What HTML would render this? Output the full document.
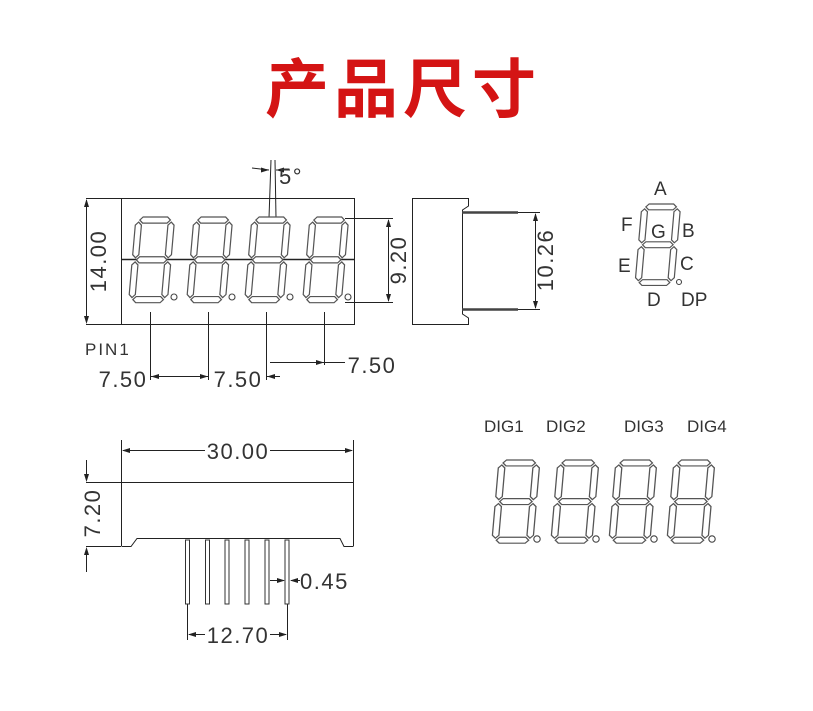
<!DOCTYPE html>
<html><head><meta charset="utf-8"><style>
html,body{margin:0;padding:0;background:#fff;width:813px;height:711px;overflow:hidden}
svg{display:block}
text{font-family:"Liberation Sans","DejaVu Sans",sans-serif;fill:#333}
</style></head><body>
<svg width="813" height="711" viewBox="0 0 813 711" xmlns="http://www.w3.org/2000/svg">
<defs>
<g id="dg" fill="#fff" stroke="#555" stroke-width="1.2">
<polygon points="4,3 7,0 31,0 34,3 31,6 7,6"/>
<polygon points="4,42 7,39 31,39 34,42 31,45 7,45"/>
<polygon points="4,81 7,78 31,78 34,81 31,84 7,84"/>
<polygon points="3,5 6,8 6,37 3,40 0,37 0,8"/>
<polygon points="3,44 6,47 6,76 3,79 0,76 0,47"/>
<polygon points="35,5 38,8 38,37 35,40 32,37 32,8"/>
<polygon points="35,44 38,47 38,76 35,79 32,76 32,47"/>
</g>
</defs>
<text x="403" y="112" text-anchor="middle" font-size="64" font-weight="bold" letter-spacing="5" style="fill:#d41414;font-family:'Liberation Sans','Noto Sans CJK SC',sans-serif">产品尺寸</text>

<g stroke="#222" stroke-width="1" fill="none">
<rect x="121.5" y="198.5" width="233" height="126"/>
<line x1="121" y1="259.5" x2="354" y2="259.5" stroke-width="1.5"/>
<line x1="86" y1="198.5" x2="121" y2="198.5"/>
<line x1="86" y1="324.5" x2="121" y2="324.5"/>
<line x1="86.5" y1="200" x2="86.5" y2="322"/>
<line x1="269" y1="218" x2="271" y2="160"/>
<line x1="276" y1="218" x2="275" y2="160"/>
<line x1="252" y1="168" x2="269" y2="170"/>
<line x1="276" y1="170" x2="290" y2="170"/>
<line x1="345" y1="218.5" x2="393" y2="218.5"/>
<line x1="345" y1="302.5" x2="393" y2="302.5"/>
<line x1="388.5" y1="220" x2="388.5" y2="301"/>
<line x1="150.5" y1="312" x2="150.5" y2="380"/>
<line x1="208.5" y1="312" x2="208.5" y2="380"/>
<line x1="266.5" y1="312" x2="266.5" y2="380"/>
<line x1="324.5" y1="312" x2="324.5" y2="365"/>
<line x1="150" y1="376.5" x2="208" y2="376.5"/>
<line x1="266" y1="376.5" x2="280" y2="376.5"/>
<line x1="270" y1="362.5" x2="345" y2="362.5"/>
<path d="M412.5 198.5 H468.5 V206 L462.5 210 V314 L468.5 318 V324.5 H412.5 Z"/>
<line x1="462" y1="212.5" x2="518" y2="212.5" stroke-width="2.5" stroke="#444"/>
<line x1="462" y1="309.5" x2="518" y2="309.5" stroke-width="2.5" stroke="#444"/>
<line x1="518" y1="212.5" x2="540" y2="212.5"/>
<line x1="518" y1="309.5" x2="540" y2="309.5"/>
<line x1="535.5" y1="214" x2="535.5" y2="308"/>
<line x1="121.5" y1="440" x2="121.5" y2="546"/>
<line x1="353.5" y1="440" x2="353.5" y2="546"/>
<line x1="123" y1="450.5" x2="205" y2="450.5"/>
<line x1="270" y1="450.5" x2="352" y2="450.5"/>
<line x1="121" y1="482.5" x2="354" y2="482.5"/>
<path d="M121.5 546.5 H131 L137 538.5 H340 L344 546.5 H353.5"/>
<line x1="86" y1="482.5" x2="121" y2="482.5"/>
<line x1="86" y1="546.5" x2="121" y2="546.5"/>
<line x1="86.5" y1="460" x2="86.5" y2="478"/>
<line x1="86.5" y1="552" x2="86.5" y2="572"/>
<line x1="187.5" y1="604" x2="187.5" y2="640"/>
<line x1="287.5" y1="604" x2="287.5" y2="640"/>
<line x1="189" y1="634.5" x2="205" y2="634.5"/>
<line x1="270" y1="634.5" x2="286" y2="634.5"/>
<line x1="270" y1="580.5" x2="284" y2="580.5"/>
<line x1="291" y1="580.5" x2="300" y2="580.5"/>
</g>
<g fill="#fff" stroke="#333" stroke-width="1">
<rect x="185.5" y="540" width="4" height="64"/>
<rect x="205.5" y="540" width="4" height="64"/>
<rect x="225" y="540" width="4" height="64"/>
<rect x="245" y="540" width="4" height="64"/>
<rect x="265" y="540" width="4" height="64"/>
<rect x="285" y="540" width="4" height="64"/>
</g>
<g fill="#222">
<polygon points="86.5,199 84,207 89,207"/><polygon points="86.5,324 84,316 89,316"/>
<polygon points="388.5,219 386,227 391,227"/><polygon points="388.5,302 386,294 391,294"/>
<polygon points="535.5,213 533,221 538,221"/><polygon points="535.5,309 533,301 538,301"/>
<polygon points="151,376.5 159,374 159,379"/><polygon points="208,376.5 200,374 200,379"/>
<polygon points="267,376.5 275,374 275,379"/><polygon points="324,362.5 316,360 316,365"/>
<polygon points="122,450.5 130,448 130,453"/><polygon points="353,450.5 345,448 345,453"/>
<polygon points="86.5,482 84,474 89,474"/><polygon points="86.5,547 84,555 89,555"/>
<polygon points="188,634.5 196,632 196,637"/><polygon points="287,634.5 279,632 279,637"/>
<polygon points="285,580.5 277,578 277,583"/><polygon points="290,580.5 298,578 298,583"/>
<polygon points="269,170 261,167.5 261,172.5"/><polygon points="276,170 284,167.5 284,172.5"/>
</g>
<g transform="translate(136,217) skewX(-5) scale(1.02,1.02)"><use href="#dg"/></g>
<g transform="translate(194,217) skewX(-5) scale(1.02,1.02)"><use href="#dg"/></g>
<g transform="translate(252,217) skewX(-5) scale(1.02,1.02)"><use href="#dg"/></g>
<g transform="translate(310,217) skewX(-5) scale(1.02,1.02)"><use href="#dg"/></g>
<g transform="translate(499,460) skewX(-5) scale(1.08,0.99)"><use href="#dg"/></g>
<g transform="translate(558,460) skewX(-5) scale(1.08,0.99)"><use href="#dg"/></g>
<g transform="translate(616,460) skewX(-5) scale(1.08,0.99)"><use href="#dg"/></g>
<g transform="translate(674,460) skewX(-5) scale(1.08,0.99)"><use href="#dg"/></g>
<g transform="translate(642,204) skewX(-5) scale(1.02,0.97)"><use href="#dg"/></g>
<g fill="#fff" stroke="#444" stroke-width="1.1">
<circle cx="174" cy="297" r="3"/><circle cx="232" cy="297" r="3"/><circle cx="290" cy="297" r="3"/><circle cx="348" cy="297" r="3"/>
<circle cx="537" cy="539" r="3.2"/><circle cx="596" cy="539" r="3.2"/><circle cx="654" cy="539" r="3.2"/><circle cx="712" cy="539" r="3.2"/>
<circle cx="679" cy="282" r="2.5"/>
</g>
<g font-size="22" letter-spacing="1.5">
<text x="98" y="261" text-anchor="middle" transform="rotate(-90 98 261)" dy="8">14.00</text>
<text x="398" y="260" text-anchor="middle" transform="rotate(-90 398 260)" dy="8">9.20</text>
<text x="545" y="260" text-anchor="middle" transform="rotate(-90 545 260)" dy="8">10.26</text>
<text x="92" y="513" text-anchor="middle" transform="rotate(-90 92 513)" dy="8">7.20</text>
<text x="123" y="387" text-anchor="middle">7.50</text>
<text x="238" y="387" text-anchor="middle">7.50</text>
<text x="372" y="373" text-anchor="middle">7.50</text>
<text x="238" y="459" text-anchor="middle">30.00</text>
<text x="238" y="643" text-anchor="middle">12.70</text>
<text x="300" y="589">0.45</text>
<text x="279" y="184">5°</text>
</g>
<text x="85" y="355" font-size="17" letter-spacing="2">PIN1</text>
<g font-size="19">
<text x="654" y="195">A</text>
<text x="621" y="231">F</text>
<text x="651" y="238">G</text>
<text x="682" y="237">B</text>
<text x="618" y="272">E</text>
<text x="680" y="270">C</text>
<text x="647" y="306">D</text>
<text x="681" y="306">DP</text>
</g>
<g font-size="17">
<text x="484" y="432">DIG1</text>
<text x="546" y="432">DIG2</text>
<text x="624" y="432">DIG3</text>
<text x="687" y="432">DIG4</text>
</g>
</svg>
</body></html>
